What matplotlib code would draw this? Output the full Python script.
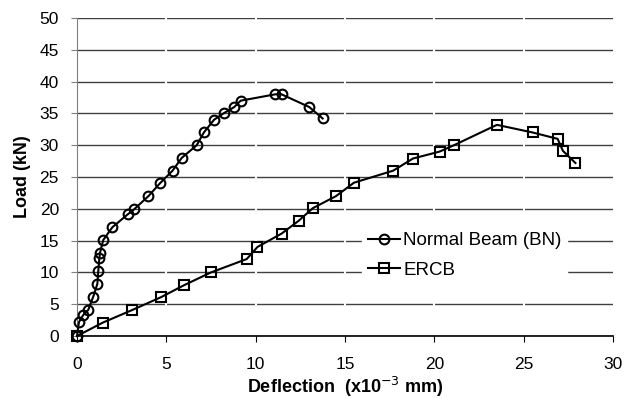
import numpy as np
import matplotlib.pyplot as plt

plt.rcParams['font.family'] = ['Liberation Sans', 'DejaVu Sans']

# Normal Beam (BN)
bn_defl = [0.0, 0.11, 0.35, 0.63, 0.91, 1.14, 1.19, 1.25, 1.29, 1.47, 1.98, 2.87, 3.19,
           4.0, 4.64, 5.35, 5.86, 6.7, 7.1, 7.67, 8.2, 8.8, 9.16, 11.1, 11.45, 13.0, 13.75]
bn_load = [0, 2.2, 3.3, 4.1, 6.2, 8.2, 10.2, 12.2, 13.1, 15.1, 17.1, 19.2, 19.9,
           22, 24, 26, 28, 30, 32, 34, 35, 36, 37, 38, 38, 36, 34.2]

# ERCB
er_defl = [0.0, 1.44, 3.1, 4.7, 6.0, 7.5, 9.5, 10.1, 11.45, 12.4, 13.2, 14.5, 15.5,
           17.7, 18.8, 20.3, 21.1, 23.5, 25.5, 26.9, 27.2, 27.9]
er_load = [0, 2.1, 4.1, 6.1, 8.0, 10.0, 12.1, 14.0, 16.1, 18.1, 20.1, 22, 24.1,
           26, 27.9, 29, 30, 33.2, 32, 31, 29.1, 27.2]

xticks = [0, 5, 10, 15, 20, 25, 30]
yticks = list(range(0, 51, 5))

fig = plt.figure(figsize=(6.31, 3.98), dpi=100)
ax = fig.add_axes([77/631, 1 - 336/398, 536/631, 318/398])

ax.set_axisbelow(True)
ax.grid(axis='y', color='#404040', lw=1)
# small white breaks in the gridlines at the x ticks
ax.vlines(xticks[1:-1], 0.3, 50, color='white', lw=1.5, zorder=1)

ax.plot(bn_defl, bn_load, '-o', color='black', lw=1.5, ms=7, mfc='none', mew=1.5,
        label='Normal Beam (BN)', zorder=3, clip_on=False)
ax.plot(er_defl, er_load, '-s', color='black', lw=1.5, ms=6.5, mfc='none', mew=1.5,
        label='ERCB', zorder=3, clip_on=False)

ax.set_xlim(0, 30)
ax.set_ylim(0, 50)
ax.set_xticks(xticks)
ax.set_yticks(yticks)
ax.tick_params(axis='x', direction='out', length=4, color='black', labelsize=12.5, pad=11)
ax.tick_params(axis='y', direction='out', length=4, color='#808080', labelsize=12.5, pad=9)

for s in ['top', 'right']:
    ax.spines[s].set_visible(False)
ax.spines['left'].set_color('#808080')
ax.spines['bottom'].set_color('black')
ax.spines['bottom'].set_linewidth(1.2)

ax.set_xlabel('Deflection  (x10$^{-3}$ mm)', fontsize=13, fontweight='bold', labelpad=2)
ax.set_ylabel('Load (kN)', fontsize=13, fontweight='bold', labelpad=6)

leg = ax.legend(loc='center left', bbox_to_anchor=((362 - 77) / 536, 0.253),
                fontsize=13.5, frameon=True, fancybox=False, framealpha=1,
                handlelength=1.7, handletextpad=0.2, labelspacing=0.65, borderpad=0.3,
                borderaxespad=0)
leg.get_frame().set_edgecolor('white')
leg.get_frame().set_facecolor('white')

fig.savefig('out.png', dpi=100)
